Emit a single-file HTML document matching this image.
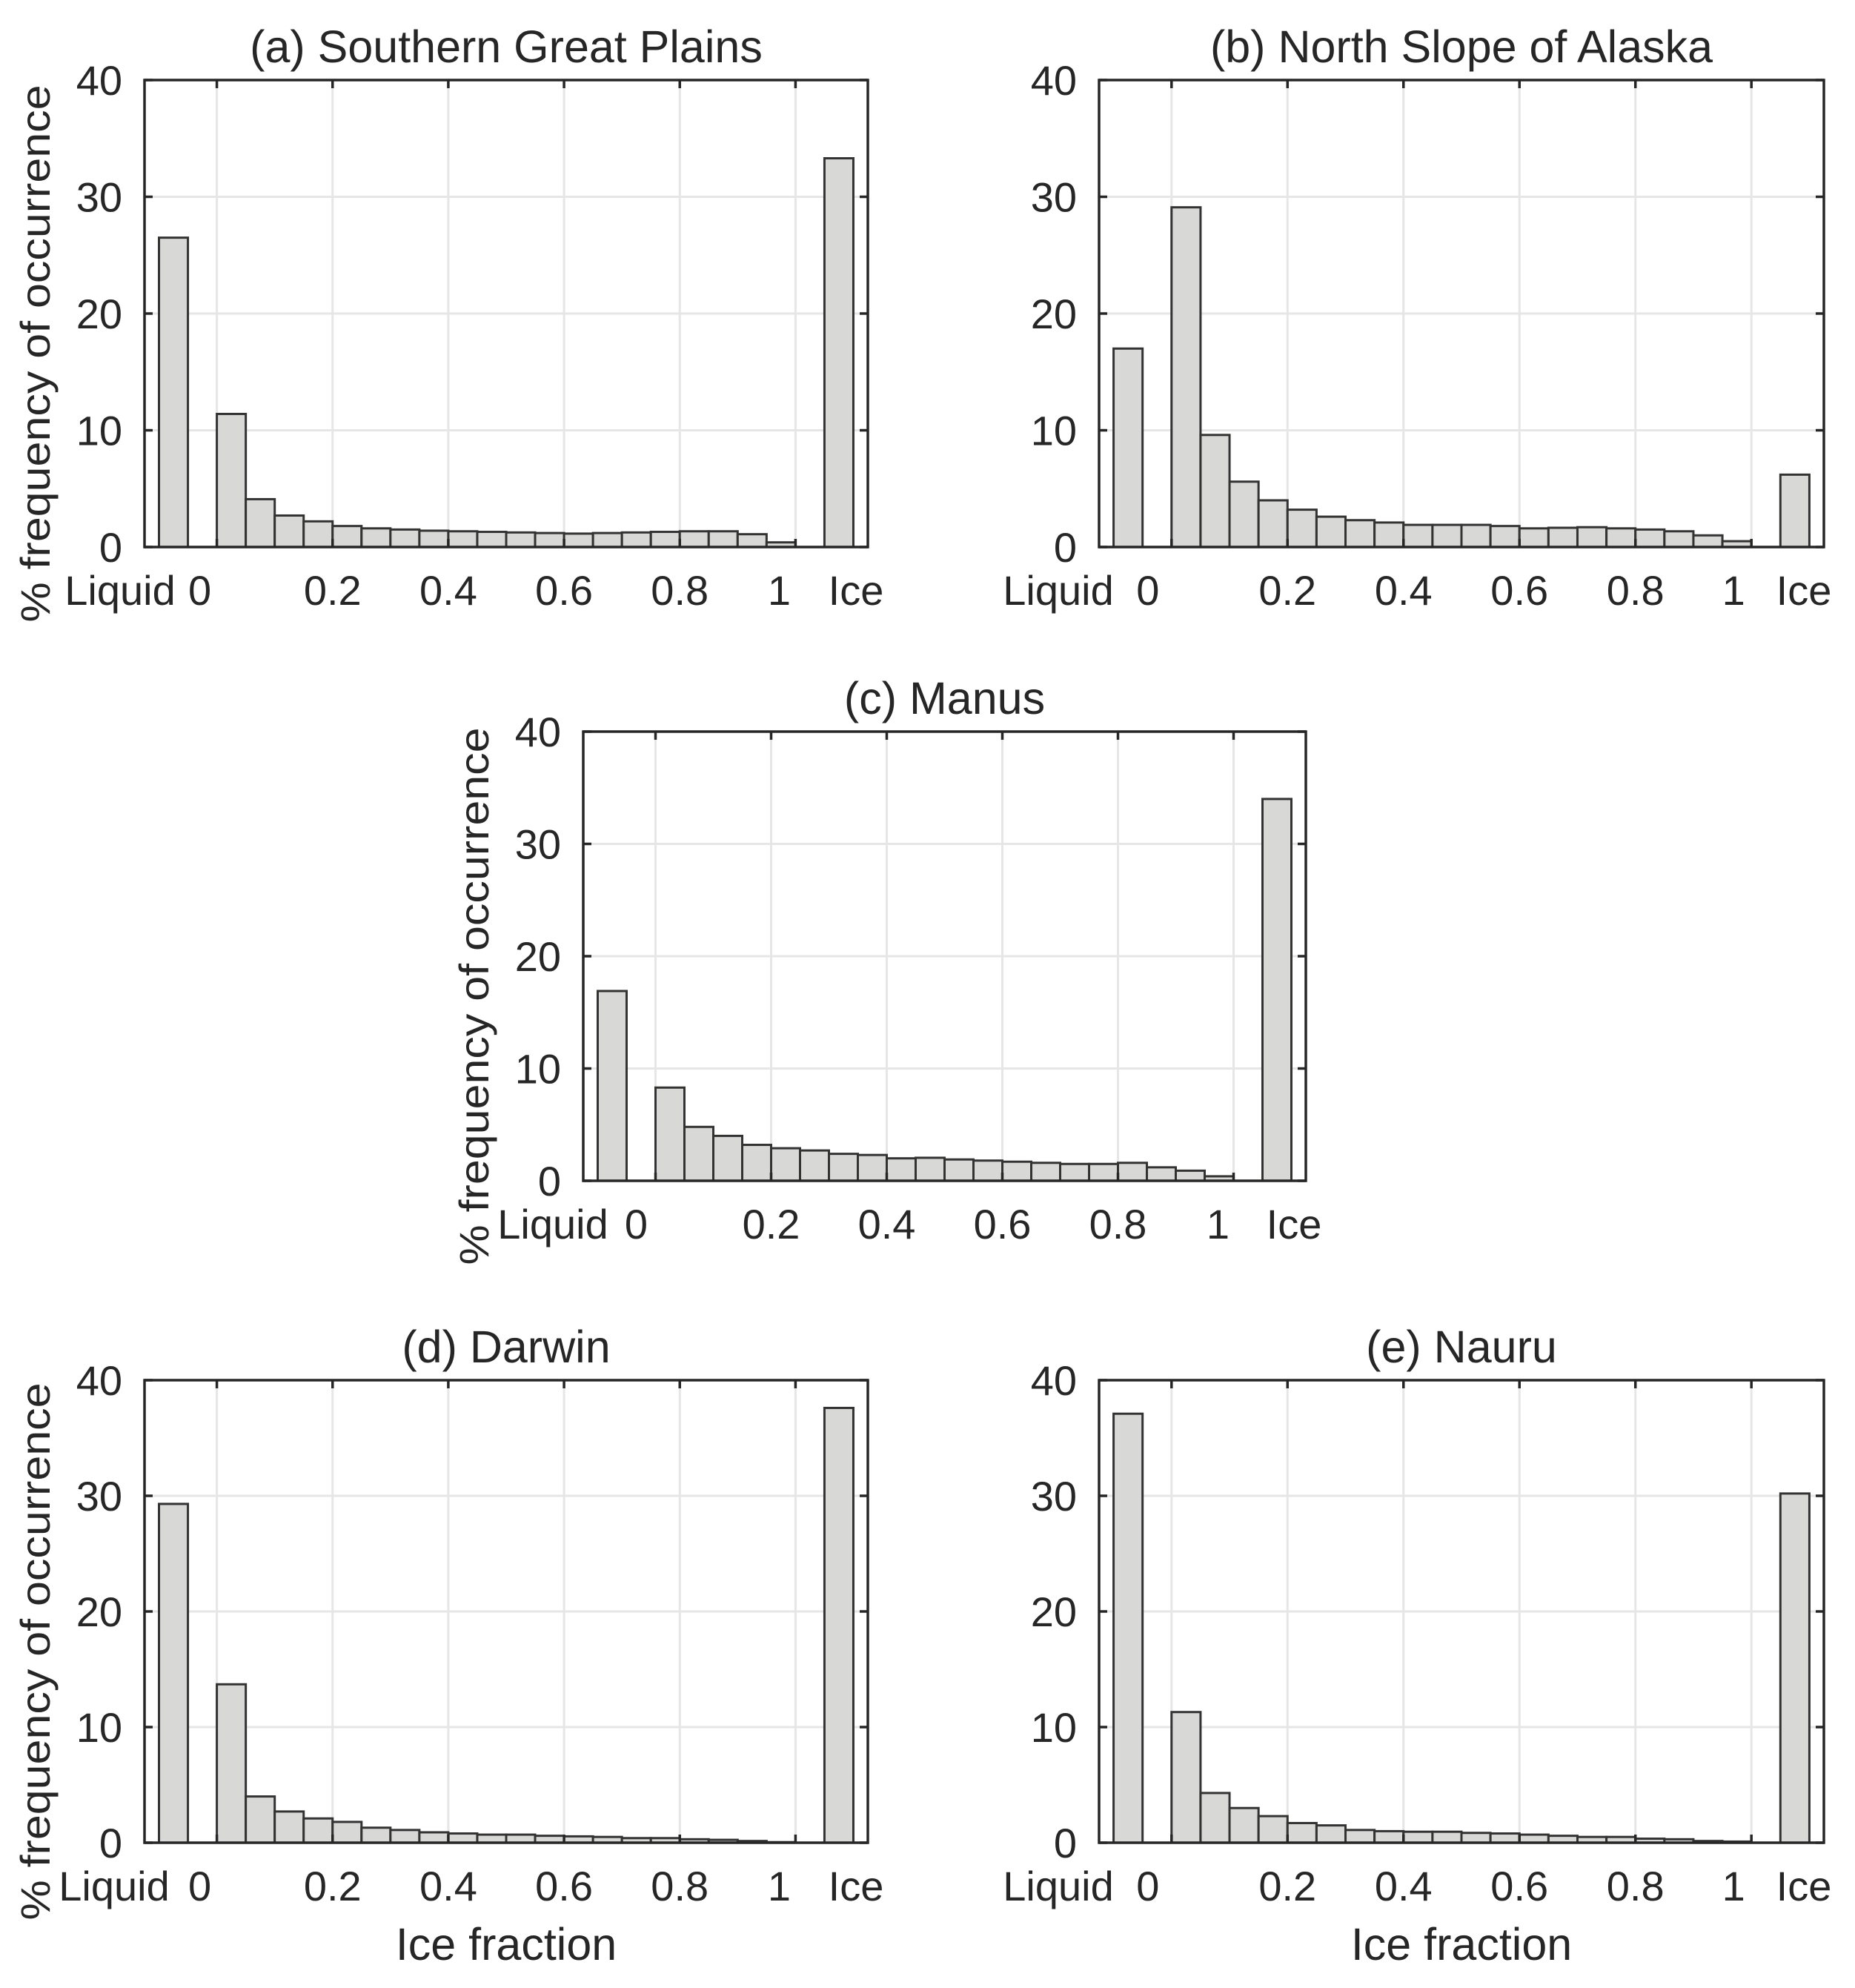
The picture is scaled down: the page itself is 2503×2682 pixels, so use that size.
<!DOCTYPE html>
<html><head><meta charset="utf-8"><style>
html,body{margin:0;padding:0;background:#fff;}
svg{display:block;}
text{font-family:"Liberation Sans",Arial,sans-serif;fill:#262626;}
</style></head>
<body>
<svg id="fig" width="2503" height="2682" viewBox="0 0 2503 2682" xmlns="http://www.w3.org/2000/svg"></svg>
<script>
const binCenters = [0.025,0.075,0.125,0.175,0.225,0.275,0.325,0.375,0.425,0.475,0.525,0.575,0.625,0.675,0.725,0.775,0.825,0.875,0.925,0.975];
const yTicks = [0,10,20,30,40];
const xTicks = [0,0.2,0.4,0.6,0.8,1];
const xTickLabels = ["0.2","0.4","0.6","0.8"];
const titles = ["(a) Southern Great Plains","(b) North Slope of Alaska","(c) Manus","(d) Darwin","(e) Nauru"];
const liquidA = 26.5, iceA = 33.3;
const binsA = [11.4,4.1,2.7,2.2,1.8,1.6,1.5,1.4,1.35,1.3,1.25,1.2,1.15,1.2,1.25,1.3,1.35,1.35,1.1,0.4];
const liquidB = 17.0, iceB = 6.2;
const binsB = [29.1,9.6,5.6,4.0,3.2,2.6,2.3,2.1,1.9,1.9,1.9,1.8,1.6,1.65,1.7,1.6,1.5,1.35,1.0,0.5];
const liquidC = 16.9, iceC = 34.0;
const binsC = [8.3,4.8,4.0,3.2,2.9,2.7,2.4,2.3,2.0,2.05,1.9,1.8,1.7,1.6,1.5,1.5,1.6,1.2,0.9,0.4];
const liquidD = 29.3, iceD = 37.6;
const binsD = [13.7,4.0,2.7,2.1,1.8,1.3,1.1,0.9,0.8,0.7,0.7,0.6,0.55,0.5,0.4,0.4,0.3,0.25,0.15,0.05];
const liquidE = 37.1, iceE = 30.2;
const binsE = [11.3,4.3,3.0,2.3,1.7,1.5,1.1,1.0,0.95,0.95,0.85,0.8,0.7,0.6,0.5,0.5,0.35,0.3,0.15,0.1];

const NS = "http://www.w3.org/2000/svg";
const svg = document.getElementById('fig');
function mk(tag, attrs, parent){const e=document.createElementNS(NS,tag);for(const k in attrs)e.setAttribute(k,attrs[k]);(parent||svg).appendChild(e);return e;}

const panels = [
 {id:'a',left:195,right:1171,top:108,bottom:738,liquid:liquidA,ice:iceA,bins:binsA,title:titles[0],ylab:true,xlab:false,liqOff:-33,zeroOff:-23,oneOff:-22,iceOff:-16},
 {id:'b',left:1483,right:2461,top:108,bottom:738,liquid:liquidB,ice:iceB,bins:binsB,title:titles[1],ylab:false,xlab:false,liqOff:-55,zeroOff:-32,oneOff:-24,iceOff:-27},
 {id:'c',left:787,right:1762,top:987,bottom:1593,liquid:liquidC,ice:iceC,bins:binsC,title:titles[2],ylab:true,xlab:false,liqOff:-41,zeroOff:-26,oneOff:-21,iceOff:-16},
 {id:'d',left:195,right:1171,top:1862,bottom:2486,liquid:liquidD,ice:iceD,bins:binsD,title:titles[3],ylab:true,xlab:true,liqOff:-41,zeroOff:-23,oneOff:-22,iceOff:-16},
 {id:'e',left:1483,right:2461,top:1862,bottom:2486,liquid:liquidE,ice:iceE,bins:binsE,title:titles[4],ylab:false,xlab:true,liqOff:-55,zeroOff:-32,oneOff:-24,iceOff:-27}
];

panels.forEach(p=>{
  const g = mk('g',{});
  
  
  const xs = v => p.left + (v+0.125)/1.25*(p.right-p.left);
  const ys = v => p.bottom - v/40*(p.bottom-p.top);
  xTicks.forEach(t=>{const l=mk('line',{x1:xs(t),x2:xs(t),y1:p.top,y2:p.bottom,stroke:'#e6e6e6','stroke-width':3},g);
    });
  yTicks.slice(1,4).forEach(t=>{const l=mk('line',{x1:p.left,x2:p.right,y1:ys(t),y2:ys(t),stroke:'#e6e6e6','stroke-width':3},g);
    });
  const bw = 0.05;
  function bar(x0,v,name){
    const r=mk('rect',{x:xs(x0),y:ys(v),width:xs(x0+bw)-xs(x0),height:ys(0)-ys(v),fill:'#d8d8d6',stroke:'#333','stroke-width':3},g);
    
  }
  bar(-0.1,p.liquid,'bar-liquid');
  p.bins.forEach((v,i)=>bar(binCenters[i]-0.025,v,'bar-bin-'+(i+1)));
  bar(1.05,p.ice,'bar-ice');
  const box=mk('rect',{x:p.left,y:p.top,width:p.right-p.left,height:p.bottom-p.top,fill:'none',stroke:'#262626','stroke-width':3.5},g);
  
  xTicks.forEach(t=>{
    mk('line',{x1:xs(t),x2:xs(t),y1:p.top,y2:p.top+11,stroke:'#262626','stroke-width':3.5},g);
    mk('line',{x1:xs(t),x2:xs(t),y1:p.bottom,y2:p.bottom-11,stroke:'#262626','stroke-width':3.5},g);
  });
  yTicks.forEach(t=>{
    mk('line',{x1:p.left,x2:p.left+11,y1:ys(t),y2:ys(t),stroke:'#262626','stroke-width':3.5},g);
    mk('line',{x1:p.right,x2:p.right-11,y1:ys(t),y2:ys(t),stroke:'#262626','stroke-width':3.5},g);
    const tl=mk('text',{x:p.left-30,y:ys(t)+20,'font-size':56,'text-anchor':'end'},g);
    tl.textContent=t;
    
  });
  const ly = p.bottom + 78;
  function xl(x,txt){const t=mk('text',{x:x,y:ly,'font-size':56,'text-anchor':'middle'},g);t.textContent=txt;
    }
  xl(p.left+p.liqOff,'Liquid');
  xl(xs(0)+p.zeroOff,'0');
  xTickLabels.forEach((s,i)=>xl(xs(xTicks[i+1]),s));
  xl(xs(1)+p.oneOff,'1');
  xl(p.right+p.iceOff,'Ice');
  const tt=mk('text',{x:(p.left+p.right)/2,y:p.top-24,'font-size':61,'text-anchor':'middle',fill:'#000'},g);
  tt.textContent=p.title;
  if(p.ylab){
    const cx=p.left-128, cy=(p.top+p.bottom)/2+54;
    const yl=mk('text',{x:0,y:0,'font-size':56,'text-anchor':'middle',transform:`translate(${cx},${cy}) rotate(-90)`,textLength:725,lengthAdjust:'spacingAndGlyphs'},g);
    yl.textContent='% frequency of occurrence';
    
  }
  if(p.xlab){
    const xt=mk('text',{x:(p.left+p.right)/2,y:p.bottom+158,'font-size':61,'text-anchor':'middle'},g);
    xt.textContent='Ice fraction';
  }
});
</script>
</body></html>
